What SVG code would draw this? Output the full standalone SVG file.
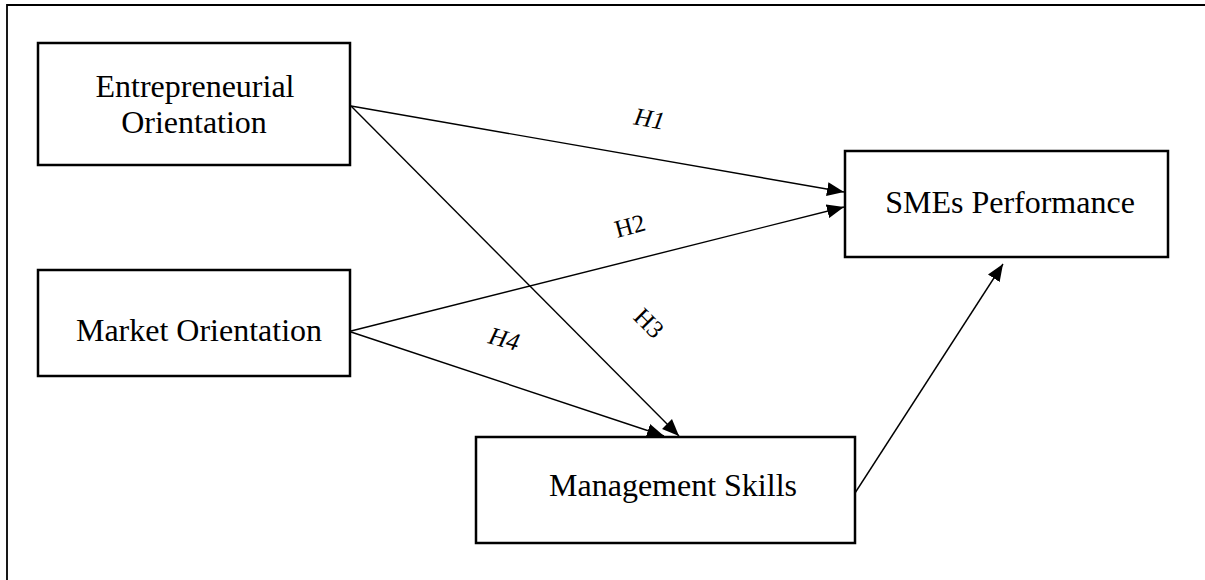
<svg xmlns="http://www.w3.org/2000/svg" width="1205" height="580" viewBox="0 0 1205 580">
  <style>
    .box { fill: #fff; stroke: #000; stroke-width: 2.5; }
    .lbl { font-family: "Liberation Serif", "Times New Roman", serif; font-size: 32px; fill: #000; text-anchor: middle; }
    .hyp { font-family: "Liberation Serif", "Times New Roman", serif; font-size: 25px; fill: #000; text-anchor: middle; }
    .edge { stroke: #000; stroke-width: 1.4; fill: none; marker-end: url(#arrow); }
  </style>
  <defs>
    <marker id="arrow" markerUnits="userSpaceOnUse" markerWidth="18" markerHeight="15" refX="17" refY="7.5" orient="auto">
      <path d="M0,0.5 L17,7.5 L0,14.5 Z" fill="#000"/>
    </marker>
  </defs>
  <rect width="1205" height="580" fill="#fff"/>
  <!-- frame -->
  <path d="M7,580 V5 H1205" fill="none" stroke="#000" stroke-width="1.8"/>

  <g id="connectors">
    <line class="edge" x1="351" y1="106" x2="844" y2="192"/>
    <line class="edge" x1="351" y1="106" x2="679" y2="436"/>
    <line class="edge" x1="351" y1="331" x2="844" y2="207"/>
    <line class="edge" x1="351" y1="332" x2="664" y2="436"/>
    <line class="edge" x1="855" y1="493" x2="1003" y2="264"/>
    <text class="hyp" font-style="italic" transform="translate(648,127) rotate(10)">H1</text>
    <text class="hyp" transform="translate(632,234) rotate(-15)">H2</text>
    <text class="hyp" transform="translate(643,329) rotate(45)">H3</text>
    <text class="hyp" font-style="italic" transform="translate(502,347) rotate(15)">H4</text>
  </g>

  <g id="entrepreneurial-orientation">
    <rect class="box" x="38" y="43" width="312" height="122"/>
    <text class="lbl" x="195" y="97">Entrepreneurial</text>
    <text class="lbl" x="194" y="133">Orientation</text>
  </g>
  <g id="market-orientation">
    <rect class="box" x="38" y="270" width="312" height="106"/>
    <text class="lbl" x="199" y="341">Market Orientation</text>
  </g>
  <g id="smes-performance">
    <rect class="box" x="845" y="151" width="323" height="106"/>
    <text class="lbl" x="1010" y="213">SMEs Performance</text>
  </g>
  <g id="management-skills">
    <rect class="box" x="476" y="437" width="379" height="106"/>
    <text class="lbl" x="673" y="496">Management Skills</text>
  </g>
</svg>
